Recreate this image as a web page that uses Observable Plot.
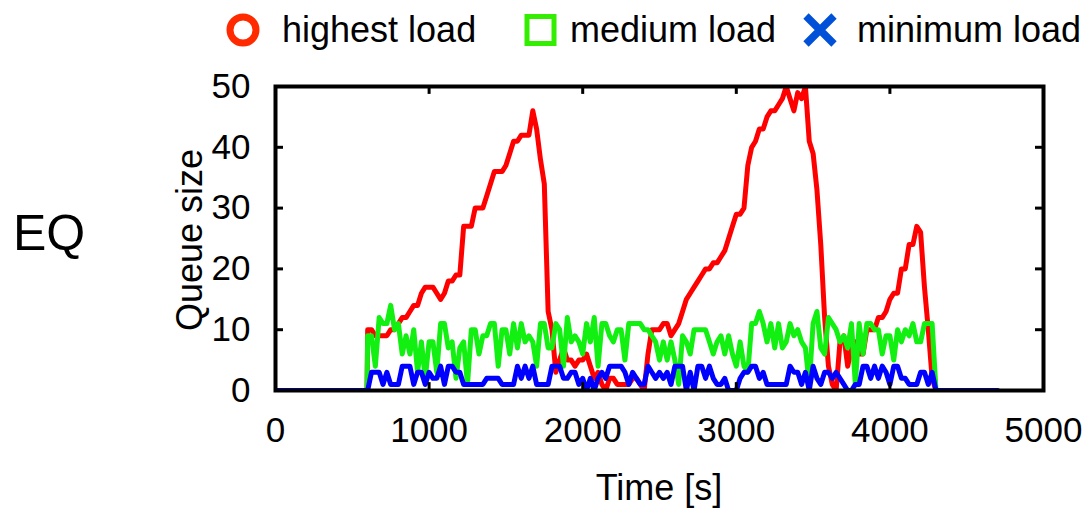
<!DOCTYPE html>
<html><head><meta charset="utf-8">
<script src="https://cdn.jsdelivr.net/npm/d3@7"></script>
<script src="https://cdn.jsdelivr.net/npm/@observablehq/plot@0.6"></script>
<style>body{margin:0;background:#fff} #chart{width:1092px;height:508px}</style>
</head><body><div id="chart"></div>
<script>
// ---- data ----
const time = [600,625,650,675,700,725,750,775,800,825,850,875,900,925,950,975,
1000,1025,1050,1075,1100,1125,1150,1175,1200,1225,1250,1275,1300,1325,1350,1375,1400,1425,1450,1475,1500,1525,1550,1575,1600,1625,1650,1675,1700,1725,1750,1775,1800,1825,1850,1875,1900,1925,1950,1975,
2000,2025,2050,2075,2100,2125,2150,2175,2200,2225,2250,2275,2300,2325,2350,2375,2400,2425,2450,2475,2500,2525,2550,2575,2600,2625,2650,2675,2700,2725,2750,2775,2800,2825,2850,2875,2900,2925,2950,2975,
3000,3025,3050,3075,3100,3125,3150,3175,3200,3225,3250,3275,3300,3325,3350,3375,3400,3425,3450,3475,3500,3525,3550,3575,3600,3625,3650,3675,3700,3725,3750,3775,3800,3825,3850,3875,3900,3925,3950,3975,
4000,4025,4050,4075,4100,4125,4150,4175,4200,4225,4250,4275,4300];
const idleStart = [0, 596];
const idleEnd = [4700];
const highest = [10,10,9,9,9,9,10,10,11,12,12,13,14,14,16,17,
17,17,16,15,16,18,18,19,19,27,27,27,30,30,30,32,34,36,36,36,37,39,41,41,42,42,42,46,43,38,34,13,10,3,5,7,5,5,4,5,
5,6,4,2,3,1,0,2,2,1,1,1,1,2,2,1,0,6,10,10,10,11,11,9,10,11,13,15,16,17,18,19,20,20,21,21,22,23,25,27,
29,29,30,37,40,41,43,43,45,46,46,47,48,50,48,46,49,48,50,41,39,33,24,12,4,1,0,8,9,4,7,8,6,6,10,10,10,12,12,13,
15,16,16,20,20,24,24,27,26,17,10,2,0];
const medium = [9,9,4,12,11,11,14,10,11,6,9,6,10,3,8,2,
8,8,3,11,11,7,8,2,7,8,1,10,10,6,9,9,11,11,4,10,10,6,11,7,11,8,9,8,4,11,11,7,7,11,10,4,12,8,9,8,
6,11,8,12,4,11,11,9,8,10,10,5,11,11,11,11,10,10,9,8,5,8,5,8,5,1,9,8,6,10,10,10,10,8,6,8,9,6,9,6,
4,8,4,3,11,11,13,11,8,11,7,11,7,8,11,9,10,8,7,1,11,13,7,6,12,11,10,8,9,7,11,1,11,6,11,11,10,10,6,9,
9,5,10,8,10,9,11,8,8,11,11,11,0];
const minimum = [0,3,3,3,1,3,1,1,1,4,4,4,1,3,3,1,
3,2,2,4,1,4,4,3,3,1,1,1,1,1,1,2,2,2,2,1,1,1,1,4,2,4,2,4,1,1,1,1,4,4,4,2,2,3,3,1,
2,0,2,0,2,3,2,4,4,4,4,3,1,3,2,1,1,4,3,2,3,2,3,1,4,4,4,0,3,0,4,4,2,4,2,1,1,2,0,0,
0,2,3,3,4,4,2,3,1,1,1,1,1,1,4,3,3,1,3,0,4,2,1,3,3,2,3,2,1,0,0,1,1,4,4,2,4,2,4,3,
1,4,4,2,2,1,1,1,3,3,1,3,0];
const seriesNames = ["highest load", "medium load", "minimum load"];
const xTicks = [0,1000,2000,3000,4000,5000];
const xTickLabels = ["0","1000","2000","3000","4000","5000"];
const yTicks = [0,10,20,30,40,50];
const yTickLabels = ["0","10","20","30","40","50"];
const xLabel = "Time [s]";
const yLabel = "Queue size";
const panelLabel = "EQ";

// ---- build rows ----
function rowsFor(values) {
  return [
    ...idleStart.map(t => ({t, v: 0})),
    ...time.map((t, i) => ({t, v: values[i]})),
    ...idleEnd.map(t => ({t, v: 0}))
  ];
}
const lineColors = ["#ff0000", "#11f011", "#0000ff"];
const legendColors = ["#ff2a00", "#33ee00", "#0050d8"];
const allSeries = [highest, medium, minimum];

const W = 1092, H = 508;
const font = "'Liberation Sans', Arial, Helvetica, sans-serif";

const plot = Plot.plot({
  width: W, height: H,
  marginLeft: 275, marginRight: 49, marginTop: 86, marginBottom: 118,
  style: {fontFamily: font, fontSize: "35px", color: "#000", background: "#fff", overflow: "visible"},
  x: {domain: [0, 5000]},
  y: {domain: [0, 50]},
  marks: [
    ...allSeries.map((vals, k) => Plot.line(rowsFor(vals), {x: "t", y: "v", stroke: lineColors[k], strokeWidth: 5, clip: true})),
    Plot.ruleX(xTicks, {x: d => d, y1: 0, y2: 1.3, stroke: "#000", strokeWidth: 3}),
    Plot.ruleX(xTicks, {x: d => d, y1: 48.7, y2: 50, stroke: "#000", strokeWidth: 3}),
    Plot.ruleY(yTicks, {y: d => d, x1: 0, x2: 52, stroke: "#000", strokeWidth: 3}),
    Plot.ruleY(yTicks, {y: d => d, x1: 4948, x2: 5000, stroke: "#000", strokeWidth: 3}),
    Plot.frame({stroke: "#000", strokeWidth: 4}),
    Plot.axisX({ticks: xTicks, tickSize: 0, tickPadding: 27, label: null, fontSize: 35, tickFormat: d => xTickLabels[xTicks.indexOf(d)]}),
    Plot.axisY({ticks: yTicks, tickSize: 0, tickPadding: 25, label: null, fontSize: 35, tickFormat: d => yTickLabels[yTicks.indexOf(d)]})
  ]
});
document.getElementById("chart").appendChild(plot);

// ---- extra texts and legend ----
const svg = d3.select(plot);
const g = svg.append("g").attr("font-family", font).attr("fill", "#000").attr("text-anchor", "start");
g.append("text").attr("x", 659).attr("y", 500).attr("text-anchor", "middle").attr("font-size", 36).text(xLabel);
g.append("text").attr("transform", "translate(202,240) rotate(-90)").attr("text-anchor", "middle").attr("font-size", 36).text(yLabel);
g.append("text").attr("x", 13).attr("y", 250).attr("text-anchor", "start").attr("font-size", 50).text(panelLabel);

// legend
g.append("circle").attr("cx", 243).attr("cy", 30).attr("r", 13).attr("fill", "none").attr("stroke", legendColors[0]).attr("stroke-width", 7);
g.append("text").attr("x", 282).attr("y", 42).attr("text-anchor", "start").attr("font-size", 36).text(seriesNames[0]);
g.append("rect").attr("x", 527).attr("y", 16.5).attr("width", 27).attr("height", 27).attr("fill", "none").attr("stroke", legendColors[1]).attr("stroke-width", 5);
g.append("text").attr("x", 570).attr("y", 42).attr("text-anchor", "start").attr("font-size", 36).text(seriesNames[1]);
g.append("path").attr("d", "M806,16L834,44M834,16L806,44").attr("stroke", legendColors[2]).attr("stroke-width", 7.5).attr("fill", "none");
g.append("text").attr("x", 857).attr("y", 42).attr("text-anchor", "start").attr("font-size", 36).text(seriesNames[2]);
</script>
</body></html>
